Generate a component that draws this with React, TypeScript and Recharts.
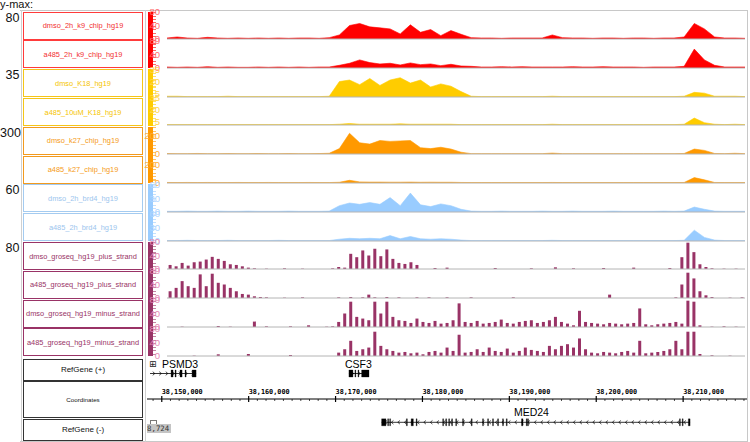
import { AreaChart, Area, BarChart, Bar, ComposedChart, Scatter, XAxis, YAxis, ReferenceLine, ReferenceArea } from 'recharts';

// binned signal per track
const dmsoK9Chip = [3,6,3,2,5,3,2,3,2,3,2,3,2,3,3,2,4, 12,40,46,36,33,30,15,42,20,28,10,25,14, 4,3,3,2,3,3,3,3,12,4,3,3,2,3,3,2,3,3,2,3,3,6, 46,30,6,3,3,2];
const a485K9Chip = [3,2,3,2,4,2,3,2,2,3,2,3,2,3,2,3,3, 8,14,24,16,12,14,9,15,10,12,7,11,6, 5,3,3,4,3,4,3,3,3,3,4,3,3,4,3,3,3,2,3,3,3,5, 56,24,8,3,3,3];
const dmsoK18 = [1,1,0.5,0.5,0.5,0.5,1,0.5,0.5,0.5,0.5,0.5,0.5,0.5,0.5,0.5,1, 20,22,16,24,15,22,25,18,22,13,17,14,7, 1,0.5,0.5,0.5,0.5,0.5,0.5,0.5,1,0.5,0.5,0.5,0.5,0.5,0.5,0.5,0.5,0.5,0.5,0.5,0.5,1, 6,5,1,1,1,0.5];
const a485K18 = [0.5,0.5,0.5,0.5,0.5,0.5,0.5,0.5,0.5,0.5,0.5,0.5,0.5,0.5,0.5,0.5,0.5, 1,2,1,1,1,1,1.5,1,1,1,1,1,0.5, 0.5,0.5,0.5,0.5,0.5,0.5,0.5,0.5,1,0.5,0.5,0.5,0.5,0.5,0.5,0.5,0.5,0.5,0.5,0.5,0.5,1, 9,3,1,0.5,1,0.5];
const dmsoK27 = [5,4,4,6,4,4,5,4,4,5,4,4,5,4,4,5,8, 60,230,125,110,150,140,145,150,70,60,75,55,20, 4,4,4,4,4,4,4,4,10,4,4,4,4,4,4,4,4,4,4,4,4,6, 55,40,6,4,8,4];
const a485K27 = [6,5,6,5,6,5,5,6,5,5,6,5,5,5,6,5,5, 8,30,12,10,10,9,9,10,8,9,8,8,6, 5,5,5,5,5,5,5,5,6,5,5,5,5,5,5,5,5,5,5,5,5,6, 60,35,6,5,5,5];
const dmsoBrd4 = [1.5,1.5,2,1.5,1.5,2,1.5,1.5,2,1.5,1.5,1.5,2,1.5,1.5,1.5,2, 14,20,17,21,17,32,14,42,16,12,18,14,6, 2,1.5,1.5,2,1.5,1.5,1.5,2,1.5,1.5,2,1.5,1.5,1.5,2,1.5,1.5,1.5,1.5,2,1.5,2, 11,6,2,1.5,1.5,1.5];
const a485Brd4 = [1,1,1.5,1,1,1,1.5,1,1,1,1,1.5,1,1,1,1,1, 4,6,5,6,5,12,5,10,5,4,5,4,2, 1,1,1,1,1,1,1,1,1.5,1,1,1,1,1,1,1,1,1,1,1,1,1.5, 24,8,2,1,1,1];

const dmsoGroPlus = [12,8,18,10,20,22,28,36,30,24,14,12, 8,4,2,0,1,0,0,2,0,0,1,0,0,0,0,2, 6,4, 45,35,55,40,60,38,58,30,18, 15,20,12,
  0,0,3,0,4, 0,0,0,0,0, 0,0,3,0,0, 0,0,0,2,0, 0,0,5,0,0, 2,0,0,0,0, 3,0,0,0,0, 4,0,0,0,0, 0,3,0,
  35,78,50,14,6,2,0,1,0,1,0];
const a485GroPlus = [20,30,50,35,30,70,35,72,45,40,30,20,12, 10,5,3,2, 0,0,1,0,0,2,0,0,0,0,0,2,0, 3,0,2,10,2,0,3,0,2,0,0,2,
  0,2,0,0,2, 0,0,0,2,0, 0,0,0,0,0, 2,0,0,0,0, 0,0,0,0,0, 0,0,0,0,0, 0,10,0,0,0, 0,0,0,0,0, 0,0,2,
  40,75,58,20,8,3,0,0,1,0,2];
const dmsoGroMinus = [0,0,1,0,0,0,0,0,3,0,1,0,0,0,16,0,2,0,0,0,2,0,0,5,0,0,1,2,
  15,40,75,30,25,20,75,40,75,30, 20,18,12,25,15,12,18,10,12,20, 70,15,12,18,10,12,15,22,12,10,
  15,18,20,12,15,20,30,15,10,5, 48,15,12,10,8,12,10,8,10,12, 55,8,5,8,10,12,15,10,78,75, 5,0,1,0,2,0,1,0];
const a485GroMinus = [0,0,0,0,1,0,0,0,5,0,0,0,0,6,0,0,0,0,0,0,3,0,0,0,0,0,0,0,
  10,20,45,15,20,25,72,30,20,15, 10,12,8,10,5,12,15,10,25,15, 63,10,12,20,12,25,15,12,22,10,
  15,25,18,15,12,30,20,30,35,25, 52,20,10,8,12,10,8,12,15,10, 45,8,10,12,15,20,45,20,72,72, 6,0,2,0,0,1,0,0];

const trackNames = ['dmso_2h_k9_chip_hg19', 'a485_2h_k9_chip_hg19', 'dmso_K18_hg19', 'a485_10uM_K18_hg19',
  'dmso_k27_chip_hg19', 'a485_k27_chip_hg19', 'dmso_2h_brd4_hg19', 'a485_2h_brd4_hg19',
  'dmso_groseq_hg19_plus_strand', 'a485_groseq_hg19_plus_strand', 'dmso_groseq_hg19_minus_strand', 'a485_groseq_hg19_minus_strand'];
const trackValues = [dmsoK9Chip, a485K9Chip, dmsoK18, a485K18, dmsoK27, a485K27, dmsoBrd4, a485Brd4,
  dmsoGroPlus, a485GroPlus, dmsoGroMinus, a485GroMinus];
const trackMax = [80, 80, 35, 35, 300, 300, 60, 60, 80, 80, 80, 80];
const trackTicks = [[0, 40, 80], [0, 40, 80], [5, 20, 35], [5, 20, 35], [0, 200], [0, 200], [0, 30, 60], [0, 30, 60],
  [0, 40, 80], [0, 40, 80], [0, 40, 80], [0, 40, 80]];
const groupYMax = ['80', '35', '300', '60', '80'];
const trackGroup = [0, 0, 1, 1, 2, 2, 3, 3, 4, 4, 4, 4];

// genes, genomic coords
const GENOME: [number, number] = [38148300, 38217350];
const coordMajor = [38150000, 38160000, 38170000, 38180000, 38190000, 38200000, 38210000];
const geneNames = ['PSMD3', 'CSF3', 'MED24'];
const geneStart = [38148650, 38171540, 38175300];
const geneEnd = [38153950, 38173850, 38210800];
const geneLabelAt = [38152100, 38172620, 38192540];
const psmd3Exons = [[38151070, 38151300], [38151530, 38151650], [38152100, 38152340], [38152680, 38152800], [38153490, 38153950]];
const csf3Exons = [[38171540, 38172000], [38172230, 38172330], [38172580, 38172680], [38173000, 38173850]];
const med24Exons = [[38175300, 38175800], [38176000, 38176100], [38176230, 38176330], [38178150, 38178260], [38178700, 38178950],
  [38179280, 38179380], [38182330, 38182430], [38182680, 38182780], [38183020, 38183120], [38183360, 38183460],
  [38183830, 38183930], [38184620, 38184720], [38185620, 38185720], [38186920, 38187020], [38187500, 38187600],
  [38188070, 38188170], [38188650, 38188750], [38189220, 38189320], [38189650, 38189750], [38191400, 38191570],
  [38191950, 38192050], [38192100, 38192200], [38209580, 38209680], [38209900, 38210000], [38210600, 38210800]];

const palette = [
  { fill: '#FF0000', text: '#F23030', border: '#FF3B3B', tick: '#FF7070' },
  { fill: '#FFCC00', text: '#F5C400', border: '#F5C518', tick: '#FFD54A' },
  { fill: '#FF9900', text: '#F59A15', border: '#F29A1E', tick: '#FFAE3A' },
  { fill: '#99CCFF', text: '#9CC5EE', border: '#A4CBF0', tick: '#AED5FF' },
  { fill: '#993366', text: '#993366', border: '#993366', tick: '#E58AB4' },
];

const TOP = 11, STEP = 28.8, TH = 28;
const M = { top: 1, right: 2, bottom: 0, left: 0 };

function SignalTrack({ idx }: { idx: number }) {
  const pal = palette[trackGroup[idx]];
  const data = trackValues[idx].map((v, i) => ({ bin: i, v }));
  const top = TOP + idx * STEP;
  const xa = <XAxis dataKey="bin" hide />;
  const ya = (
    <YAxis width={20} domain={[0, trackMax[idx]]} ticks={trackTicks[idx]} interval={0} allowDataOverflow
      tickLine={false} axisLine={false} tickMargin={1}
      tick={{ fontSize: 9.5, fill: pal.tick, fontFamily: 'Liberation Sans' }} />
  );
  const base = <ReferenceLine y={0} stroke="#b4b4b4" strokeWidth={1} />;
  return (
    <div style={{ position: 'absolute', left: 147, top, width: 600, height: TH }}>
      {idx >= 8 ? (
        <BarChart width={600} height={TH} data={data} margin={M} barCategoryGap={1.6}>
          {xa}{ya}{base}
          <Bar dataKey="v" fill={pal.fill} isAnimationActive={false} />
        </BarChart>
      ) : (
        <AreaChart width={600} height={TH} data={data} margin={M}>
          {xa}{ya}{base}
          <Area type="linear" dataKey="v" stroke={pal.fill} strokeWidth={0.6} fill={pal.fill} fillOpacity={1}
            dot={false} activeDot={false} isAnimationActive={false} />
        </AreaChart>
      )}
    </div>
  );
}

const intronShape = (strand: string) => (p: any) => {
  const { x, y, width, height } = p;
  const cy = y + height / 2;
  const marks: number[] = [];
  for (let cx = x + 4; cx < x + width - 3; cx += 6.5) marks.push(cx);
  return (
    <g>
      <line x1={x} x2={x + width} y1={cy} y2={cy} stroke="#000" strokeWidth={0.8} />
      {marks.map(cx => (
        <polyline key={cx} fill="none" stroke="#000" strokeWidth={0.7}
          points={strand === '+' ? `${cx - 1.3},${cy - 1.8} ${cx + 0.8},${cy} ${cx - 1.3},${cy + 1.8}`
            : `${cx + 1.3},${cy - 1.8} ${cx - 0.8},${cy} ${cx + 1.3},${cy + 1.8}`} />
      ))}
    </g>
  );
};

const labelShape = (p: any) => (
  <text x={p.cx} y={p.cy} textAnchor="middle" dominantBaseline="central" fontSize={10.5}
    fontFamily="Liberation Sans" style={{ fill: '#000' }}>{p.payload.name}</text>
);

function GeneTrack({ top, height, genes, exons, lineY, labelY }: { top: number; height: number; genes: number[]; exons: number[][][]; lineY: number; labelY: number }) {
  const labels = genes.map(g => ({ x: geneLabelAt[g], y: labelY, name: geneNames[g] }));
  return (
    <div style={{ position: 'absolute', left: 147, top, width: 600, height }}>
      <ComposedChart width={600} height={height} margin={{ top: 0, right: 0, bottom: 0, left: 0 }}>
        <XAxis type="number" dataKey="x" domain={GENOME} allowDataOverflow hide />
        <YAxis type="number" dataKey="y" domain={[0, height]} allowDataOverflow hide />
        {genes.map(g => (
          <ReferenceArea key={'i' + g} x1={geneStart[g]} x2={geneEnd[g]} y1={lineY - 3} y2={lineY + 3}
            shape={intronShape(g === 2 ? '-' : '+')} />
        ))}
        {exons.map((list, k) => list.map(([a, b], j) => (
          <ReferenceArea key={k + '-' + j} x1={a} x2={b} y1={lineY - 3.5} y2={lineY + 3.5} fill="#000" fillOpacity={1} stroke="#000" strokeWidth={0.3} />
        )))}
        <Scatter data={labels} shape={labelShape} isAnimationActive={false} />
      </ComposedChart>
    </div>
  );
}

const coordTicks: number[] = [];
for (let t = 38149000; t <= 38217000; t += 1000) coordTicks.push(t);

const CoordTick = (p: any) => {
  const v = p.payload.value;
  const major = coordMajor.includes(v);
  const ay = 18;
  return (
    <g>
      <line x1={p.x} x2={p.x} y1={major ? ay - 3 : ay} y2={major ? ay + 3 : ay + 2} stroke="#000" strokeWidth={major ? 1.2 : 0.7} />
      {major && (
        <text x={p.x} y={ay - 5} textAnchor="start" fontSize={6.8} fontWeight="bold" fontFamily="DejaVu Sans Mono" style={{ fill: '#000' }}>
          {v.toLocaleString('en-US')}
        </text>
      )}
    </g>
  );
};

const boxBase: any = {
  position: 'absolute', left: 23, width: 120, boxSizing: 'border-box', display: 'flex',
  alignItems: 'center', justifyContent: 'center', background: '#fff', fontFamily: 'Liberation Sans',
};

export default function App() {
  const groupRanges = [[0, 1], [2, 3], [4, 5], [6, 7], [8, 11]];
  return (
    <div style={{ position: 'absolute', left: 0, top: 0, width: 750, height: 442, background: '#fff', overflow: 'hidden', fontFamily: 'Liberation Sans, sans-serif' }}>
      <style>{'.recharts-surface{overflow:visible}'}</style>
      <div style={{ position: 'absolute', left: 0, top: -2, fontSize: 11, lineHeight: '12px', color: '#111' }}>y-max:</div>
      <div style={{ position: 'absolute', left: 20, top: 10, width: 728, height: 1, background: '#c8c8c8' }} />
      <div style={{ position: 'absolute', left: 747, top: 10, width: 1, height: 432, background: '#c8c8c8' }} />
      <div style={{ position: 'absolute', left: 20, top: 441, width: 728, height: 1, background: '#c8c8c8' }} />
      <div style={{ position: 'absolute', left: 21, top: 10, width: 1, height: 432, background: '#d0d0d0' }} />
      <div style={{ position: 'absolute', left: 144.5, top: 10, width: 1, height: 432, background: '#d0d0d0' }} />

      {groupRanges.map(([a, b], g) => {
        const y0 = TOP + a * STEP + 0.5;
        const y1 = TOP + b * STEP + TH + 0.5;
        const col = palette[g].fill;
        return (
          <div key={g}>
            <div style={{ position: 'absolute', left: 0, width: 19.5, top: y0 - 1, textAlign: 'right', fontSize: 12.5, color: '#111' }}>{groupYMax[g]}</div>
            <div style={{ position: 'absolute', left: 148, top: y0, width: 5, height: y1 - y0, background: col }} />
            <div style={{ position: 'absolute', left: 153, top: y0, width: 3, height: y1 - y0, background: `repeating-linear-gradient(to bottom, ${col} 0px, ${col} 1px, transparent 1px, transparent 3.5px)`, opacity: 0.6 }} />
          </div>
        );
      })}

      {trackNames.map((name, i) => {
        const pal = palette[trackGroup[i]];
        return (
          <div key={name} style={{ ...boxBase, top: TOP + i * STEP + 0.6, height: 28, border: `1.5px solid ${pal.border}`, color: pal.text, fontSize: 7.4 }}>{name}</div>
        );
      })}
      {trackNames.map((name, i) => <SignalTrack key={name} idx={i} />)}

      <div style={{ ...boxBase, top: 358.5, height: 22, border: '1.5px solid #333', fontSize: 8, color: '#111' }}>RefGene (+)</div>
      <div style={{ ...boxBase, top: 381, height: 37, border: '1.5px solid #333', fontSize: 6.2, color: '#111' }}>Coordinates</div>
      <div style={{ ...boxBase, top: 418.5, height: 22, border: '1.5px solid #333', fontSize: 8, color: '#111' }}>RefGene (-)</div>

      <div style={{ position: 'absolute', left: 147, top: 381, width: 600, height: 37 }}>
        <ComposedChart width={600} height={37} data={coordMajor.map(x => ({ x }))} margin={{ top: 0, right: 0, bottom: 0, left: 0 }}>
          <XAxis type="number" dataKey="x" domain={GENOME} allowDataOverflow ticks={coordTicks} interval={0} height={19}
            tickLine={false} axisLine={{ stroke: '#000', strokeWidth: 1 }} tick={(p: any) => <CoordTick {...p} />} />
          <YAxis hide domain={[0, 1]} />
        </ComposedChart>
      </div>

      <GeneTrack top={358} height={23} genes={[0, 1]} exons={[psmd3Exons, csf3Exons]} lineY={7.5} labelY={17} />
      <GeneTrack top={404} height={37} genes={[2]} exons={[med24Exons]} lineY={18.7} labelY={29.3} />

      <div style={{ position: 'absolute', left: 149, top: 359.5, fontSize: 9, fontFamily: 'DejaVu Sans', color: '#222', lineHeight: '9px' }}>⊞</div>
      <div style={{ position: 'absolute', left: 150, top: 420, width: 5, height: 4, border: '1px solid #777', borderBottom: 'none' }} />
      <div style={{ position: 'absolute', left: 147, top: 424, width: 24, height: 9, background: '#c4c4c4', fontSize: 7.4, lineHeight: '9px', fontFamily: 'DejaVu Sans Mono', color: '#333', overflow: 'hidden', whiteSpace: 'nowrap' }}>8,724</div>
    </div>
  );
}
